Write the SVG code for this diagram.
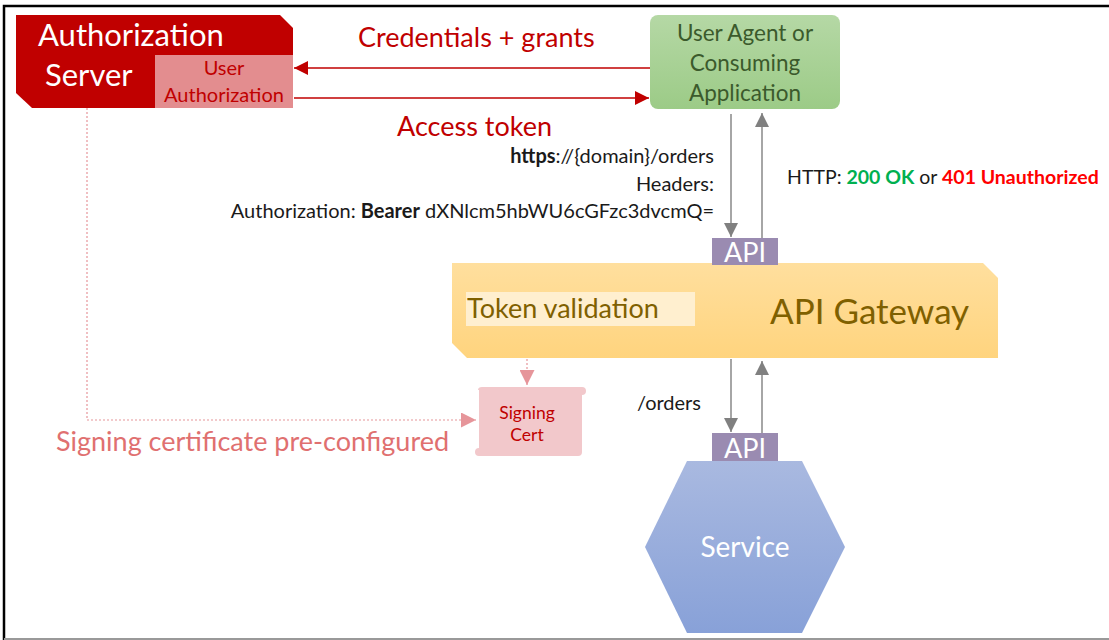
<svg xmlns="http://www.w3.org/2000/svg" width="1109" height="640" viewBox="0 0 1109 640">
<style>
text{font-family:Lato,"Open Sans","Liberation Sans",sans-serif}
.red{fill:#C00000}
.dark{fill:#1a1a1a}
.api{fill:#9A8BB1}
.apit{fill:#fff;font-size:27px;text-anchor:middle}
.redline{stroke:#C00000;stroke-width:1.4;fill:none}
.gray{stroke:#808080;stroke-width:1.4;fill:none}
.pink{stroke:#E6959A;stroke-width:1.2;fill:none;stroke-dasharray:2 2}
</style>
<defs>
<marker id="ar" viewBox="0 0 10 10" refX="10" refY="5" markerWidth="14" markerHeight="14" markerUnits="userSpaceOnUse" orient="auto"><path d="M0,0L10,5L0,10z" fill="#C00000"/></marker>
<marker id="ag" viewBox="0 0 10 10" refX="10" refY="5" markerWidth="14" markerHeight="14" markerUnits="userSpaceOnUse" orient="auto"><path d="M0,0L10,5L0,10z" fill="#808080"/></marker>
<marker id="ap" viewBox="0 0 10 10" refX="10" refY="5" markerWidth="15" markerHeight="15" markerUnits="userSpaceOnUse" orient="auto"><path d="M0,0L10,5L0,10z" fill="#E6959A"/></marker>
<linearGradient id="gg" x1="0" y1="0" x2="0" y2="1"><stop offset="0" stop-color="#B5D8A5"/><stop offset="1" stop-color="#9CCB87"/></linearGradient>
<linearGradient id="og" x1="0" y1="0" x2="0" y2="1"><stop offset="0" stop-color="#FFDF9E"/><stop offset="1" stop-color="#FFD47E"/></linearGradient>
<linearGradient id="bg" x1="0" y1="0" x2="0" y2="1"><stop offset="0" stop-color="#A9B9E0"/><stop offset="1" stop-color="#88A1D8"/></linearGradient>
</defs>
<rect x="0" y="0" width="1109" height="640" fill="#fff"/>
<path d="M4,640V6H1109" fill="none" stroke="#000" stroke-width="2.5"/>
<line x1="4" y1="639" x2="1109" y2="639" stroke="#999" stroke-width="2"/>

<g id="connectors">
<line class="redline" x1="650" y1="68" x2="294" y2="68" marker-end="url(#ar)"/>
<line class="redline" x1="294" y1="98" x2="649" y2="98" marker-end="url(#ar)"/>
<line class="gray" x1="731" y1="114" x2="731" y2="237" marker-end="url(#ag)"/>
<line class="gray" x1="762" y1="238" x2="762" y2="113" marker-end="url(#ag)"/>
<line class="gray" x1="731" y1="359" x2="731" y2="432" marker-end="url(#ag)"/>
<line class="gray" x1="762" y1="433" x2="762" y2="361" marker-end="url(#ag)"/>
<line class="pink" x1="527" y1="327" x2="527" y2="385" marker-end="url(#ap)"/>
<path class="pink" d="M87,108V420H476" marker-end="url(#ap)"/>
<text x="358" y="47" class="red" font-size="27">Credentials + grants</text>
<text x="397" y="136" class="red" font-size="27">Access token</text>
<text x="714" y="163" class="dark" font-size="20" text-anchor="end"><tspan font-weight="bold">https</tspan>://{domain}/orders</text>
<text x="714" y="191" class="dark" font-size="20" text-anchor="end">Headers:</text>
<text x="714" y="218" class="dark" font-size="20" text-anchor="end">Authorization: <tspan font-weight="bold">Bearer</tspan> dXNlcm5hbWU6cGFzc3dvcmQ=</text>
<text x="787" y="184" class="dark" font-size="19.5">HTTP: <tspan font-weight="bold" fill="#00B050">200 OK</tspan> or <tspan font-weight="bold" fill="#FF0000">401 Unauthorized</tspan></text>
<text x="637" y="410" class="dark" font-size="20">/orders</text>
<text x="56" y="451" fill="#E07070" font-size="27">Signing certificate pre-configured</text>
</g>

<g id="auth-server">
<path d="M16,15H280L293,28V108H32L16,93Z" fill="#C00000"/>
<text x="38" y="46" fill="#fff" font-size="31">Authorization</text>
<text x="45" y="86" fill="#fff" font-size="31">Server</text>
<rect x="155" y="55" width="138" height="53" fill="#E38D8F"/>
<text x="224" y="75" class="red" font-size="20" text-anchor="middle">User</text>
<text x="224" y="102" class="red" font-size="20" text-anchor="middle">Authorization</text>
</g>

<g id="user-agent">
<rect x="650" y="15" width="190" height="94" rx="8" fill="url(#gg)"/>
<g fill="#3B5A2C" font-size="22.5" text-anchor="middle">
<text x="745" y="41">User Agent or</text>
<text x="745" y="71">Consuming</text>
<text x="745" y="101">Application</text>
</g>
</g>

<g id="api-gateway">
<path d="M452,263H983L998,278V358H467L452,343Z" fill="url(#og)"/>
<rect x="466" y="292" width="229" height="34" fill="#FFEFCF"/>
<text x="467" y="318" fill="#7F6000" font-size="27">Token validation</text>
<text x="770" y="324" fill="#7F6000" font-size="35">API Gateway</text>
</g>

<g id="api-top">
<rect class="api" x="712" y="238" width="66" height="27"/>
<text class="apit" x="745" y="262">API</text>
</g>

<g id="signing-cert">
<path d="M478,390Q478,387 482,387H582Q586,387 586,391Q586,395 582,395V452Q582,456 578,456H479Q475,456 475,452Q475,448 479,448V390Z" fill="#F2C8CB"/>
<text x="527" y="419" class="red" font-size="17.5" text-anchor="middle">Signing</text>
<text x="527" y="441" class="red" font-size="17.5" text-anchor="middle">Cert</text>
</g>

<g id="service">
<polygon points="687,461 802,461 845,547 802,633 687,633 645,547" fill="url(#bg)"/>
<text x="745" y="557" fill="#fff" font-size="28" text-anchor="middle">Service</text>
</g>

<g id="api-bottom">
<rect class="api" x="712" y="433" width="66" height="28"/>
<text class="apit" x="745" y="458">API</text>
</g>
</svg>
